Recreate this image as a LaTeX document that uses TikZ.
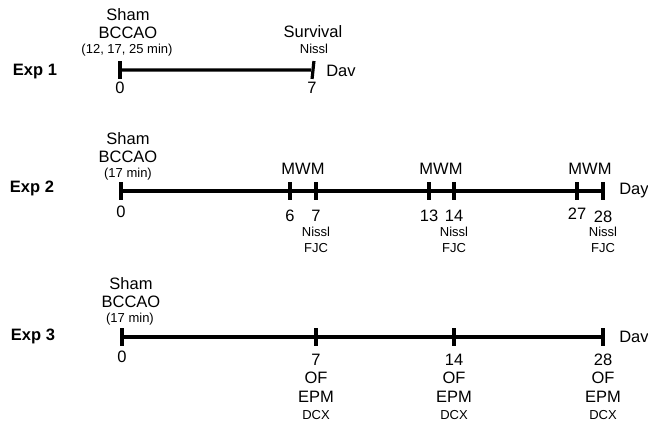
\documentclass[tikz,border=0pt]{standalone}
\usepackage{fontspec}
\setmainfont{Liberation Sans}
\begin{document}
\begin{tikzpicture}[x=1pt,y=-1pt,
  big/.style={inner sep=0pt,font=\fontsize{16.5}{17}\selectfont},
  small/.style={inner sep=0pt,font=\fontsize{13}{13}\selectfont},
  exp/.style={inner sep=0pt,font=\fontsize{16.5}{17}\selectfont\bfseries},
  tick/.style={fill=black,inner sep=0pt,minimum width=3.2pt,minimum height=18pt},
  axis/.style={line width=3.2pt}]
\useasboundingbox (0,0) rectangle (648,427);

% ---------- Exp 1 ----------
\node[exp] (e1) at (35,72) {Exp 1};
\node[tick] (a0) at (120,70) {};
\node[tick,rotate=-6] (a7) at (313,70) {};
\draw[axis] (a0) -- (a7);
\node[big] (a0s) at (128,15) {Sham};
\node[big] (a0b) at (128,33) {BCCAO};
\node[small] (a0m) at (127,50) {(12, 17, 25 min)};
\node[big] (a0n) at (120,88) {0};
\node[big] (a7n) at (312,88) {7};
\node[big] (a7s) at (313,32) {Survival};
\node[small] (a7l) at (314,49) {Nissl};
\node[big] (a7d) at (341,71) {Dav};

% ---------- Exp 2 ----------
\node[exp] (e2) at (32,188) {Exp 2};
\node[tick] (b0) at (121,191) {};
\node[tick] (b6) at (290,191) {};
\node[tick] (b7) at (316,191) {};
\node[tick] (b13) at (429,191) {};
\node[tick] (b14) at (454,191) {};
\node[tick] (b27) at (577,191) {};
\node[tick] (b28) at (603,191) {};
\draw[axis] (b0) -- (b6) -- (b7) -- (b13) -- (b14) -- (b27) -- (b28);
\node[big] (b0s) at (128,139) {Sham};
\node[big] (b0b) at (128,157) {BCCAO};
\node[small] (b0m) at (128,174) {(17 min)};
\node[big] (b0n) at (121,212) {0};
\node[big] (bm1) at (303,169) {MWM};
\node[big] (bm2) at (441,169) {MWM};
\node[big] (bm3) at (590,169) {MWM};
\node[big] (b6n) at (290,216) {6};
\node[big] (b7n) at (316,216) {7};
\node[big] (b13n) at (429,216) {13};
\node[big] (b14n) at (454,216) {14};
\node[big] (b27n) at (577,214) {27};
\node[big] (b28n) at (603,217) {28};
\node[small] (b7l) at (316,232) {Nissl};
\node[small] (b7f) at (316,248) {FJC};
\node[small] (b14l) at (454,232) {Nissl};
\node[small] (b14f) at (454,248) {FJC};
\node[small] (b28l) at (603,232) {Nissl};
\node[small] (b28f) at (603,248) {FJC};
\node[big] (b28d) at (634,191) {Day};

% ---------- Exp 3 ----------
\node[exp] (e3) at (33,336) {Exp 3};
\node[tick] (c0) at (122,337) {};
\node[tick] (c7) at (316,337) {};
\node[tick] (c14) at (454,337) {};
\node[tick] (c28) at (603,337) {};
\draw[axis] (c0) -- (c7) -- (c14) -- (c28);
\node[big] (c0s) at (131,284) {Sham};
\node[big] (c0b) at (131,302) {BCCAO};
\node[small] (c0m) at (130,319) {(17 min)};
\node[big] (c0n) at (122,357) {0};
\foreach \d/\x in {7/316,14/454,28/603}{
  \node[big] (c\d n) at (\x,360) {\d};
  \node[big] (c\d o) at (\x,378) {OF};
  \node[big] (c\d e) at (\x,397) {EPM};
  \node[small] (c\d x) at (\x,415) {DCX};
}
\node[big] (c28d) at (634,337) {Dav};
\end{tikzpicture}
\end{document}
